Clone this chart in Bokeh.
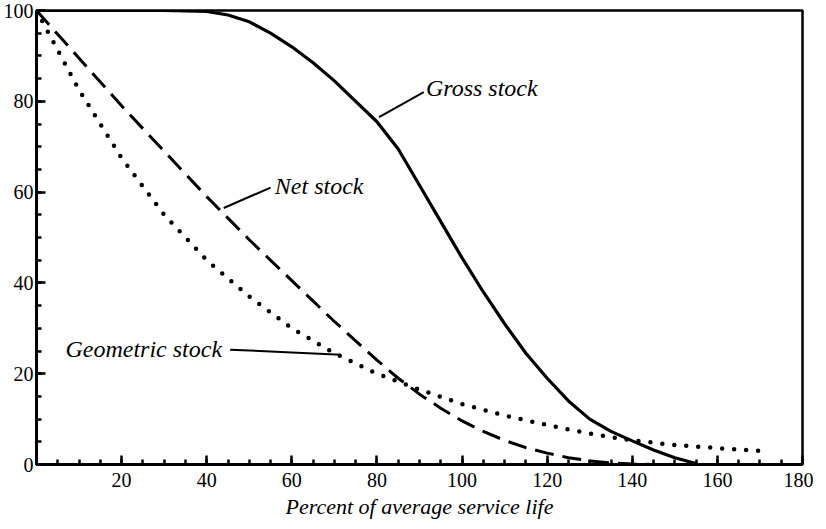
from bokeh.plotting import figure
from bokeh.models import Range1d, FixedTicker, Label
from bokeh.embed import file_html
from bokeh.resources import INLINE

# ---- data ----
gross_x = [0, 10, 20, 30, 40, 45, 50, 55, 60, 65, 70, 75, 80, 85, 90, 95, 100,
           105, 110, 115, 120, 125, 130, 135, 140, 145, 150, 155]
gross_y = [100, 100, 100, 100, 99.8, 99, 97.5, 95, 92, 88.5, 84.5, 80, 75.5,
           69.5, 61.5, 53.5, 45.5, 38, 31, 24.5, 19, 14, 10, 7.3, 5.2, 3.2,
           1.5, 0.2]

net_x = [0, 10, 20, 30, 40, 50, 60, 70, 80, 85, 90, 95, 100, 105, 110, 115,
         120, 125, 130, 135, 140, 145]
net_y = [100, 89.5, 79, 69, 59, 49.5, 40.5, 31.5, 23, 19, 15.5, 12.4, 9.6,
         7.3, 5.3, 3.7, 2.5, 1.5, 0.8, 0.35, 0.1, 0]

geo_x = [0, 10, 20, 30, 40, 50, 60, 70, 80, 90, 100, 110, 120, 130, 140, 150,
         160, 170]
geo_y = [100, 82.5, 67.5, 55, 45, 37, 30, 24.5, 20, 16.5, 13.3, 10.8, 8.7,
         6.8, 5.3, 4.3, 3.6, 3.0]

x_ticks = [20, 40, 60, 80, 100, 120, 140, 160, 180]
y_ticks = [0, 20, 40, 60, 80, 100]

labels = ["Gross stock", "Net stock", "Geometric stock"]
label_x = [91.5, 56, 6.8]
label_y = [83, 61.4, 25.5]
leader_x0 = [80.5, 44, 45.5]
leader_y0 = [76.5, 56.5, 25.3]
leader_x1 = [91, 55, 71.5]
leader_y1 = [82, 61, 24.2]

SERIF = "Liberation Serif"

p = figure(frame_width=766, frame_height=454,
           x_range=Range1d(0, 180), y_range=Range1d(0, 100),
           output_backend="svg", toolbar_location=None,
           min_border_left=33, min_border_right=11, min_border_top=10,
           min_border_bottom=0)
p.grid.visible = False
p.outline_line_color = "black"
p.outline_line_width = 2.5
p.background_fill_color = "white"
p.border_fill_color = "white"

p.xaxis.ticker = FixedTicker(ticks=x_ticks, minor_ticks=list(range(0, 181, 5)))
p.yaxis.ticker = FixedTicker(ticks=y_ticks, minor_ticks=list(range(0, 101, 5)))
for ax in (p.xaxis[0], p.yaxis[0]):
    ax.axis_line_width = 3
    ax.axis_line_color = "black"
    ax.major_tick_in = 9
    ax.major_tick_out = 0
    ax.minor_tick_in = 5
    ax.minor_tick_out = 0
    ax.major_tick_line_width = 2.5
    ax.minor_tick_line_width = 2.5
    ax.major_label_text_font = SERIF
    ax.major_label_text_font_size = "20px"
    ax.major_label_text_color = "black"
p.yaxis.major_label_standoff = 3
p.xaxis.major_label_standoff = 8
p.xaxis.axis_label = "Percent of average service life"
p.xaxis.axis_label_text_font = SERIF
p.xaxis.axis_label_text_font_style = "italic"
p.xaxis.axis_label_text_font_size = "22px"
p.xaxis.axis_label_standoff = 4
p.xaxis.axis_label_text_color = "black"

p.line(gross_x, gross_y, line_color="black", line_width=3.2)
p.line(net_x, net_y, line_color="black", line_width=3, line_dash="19 9")
p.line(geo_x, geo_y, line_color="black", line_width=4.5, line_dash="0 12",
       line_cap="round")

p.segment(leader_x0, leader_y0, leader_x1, leader_y1, line_color="black",
          line_width=2)
for t, lx, ly in zip(labels, label_x, label_y):
    p.add_layout(Label(x=lx, y=ly, text=t, text_font=SERIF,
                       text_font_style="italic", text_font_size="24px",
                       text_baseline="middle", text_color="black"))

open("out.html", "w").write(file_html(p, INLINE))
